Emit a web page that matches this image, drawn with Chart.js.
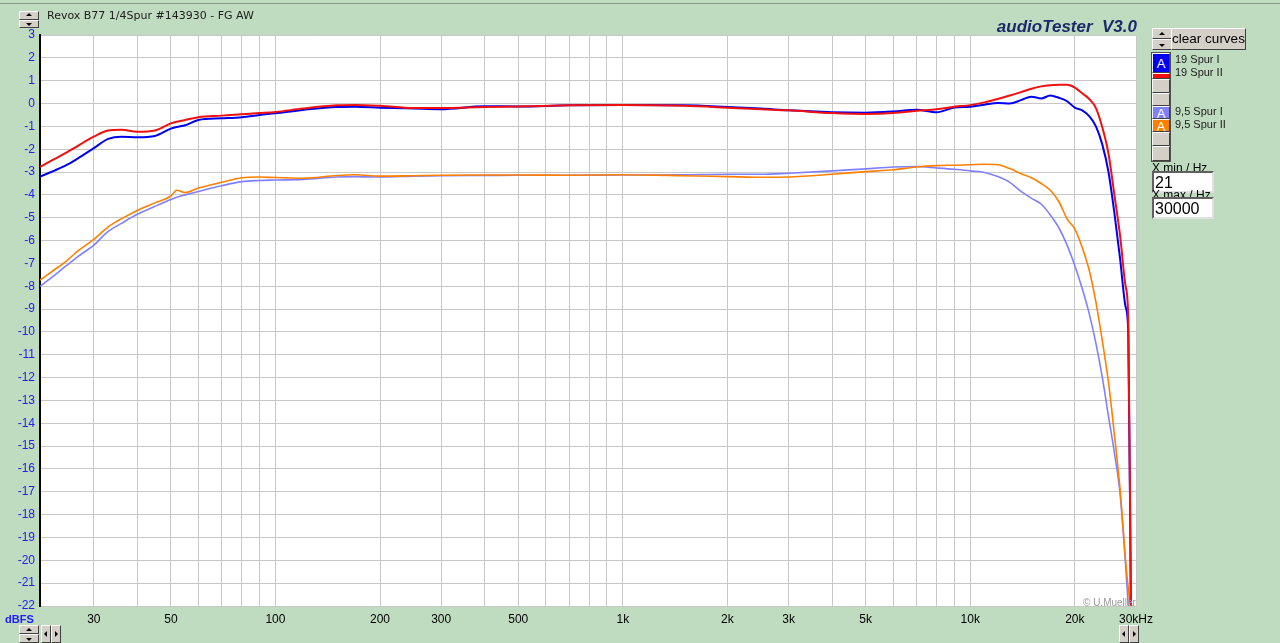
<!DOCTYPE html>
<html>
<head>
<meta charset="utf-8">
<script src="https://cdn.jsdelivr.net/npm/chart.js@4.4.1/dist/chart.umd.min.js"></script>
<style>
  body { margin: 0; width: 1280px; height: 643px; overflow: hidden; position: relative;
         background: #c0dcc0; font-family: "Liberation Sans", Arial, sans-serif; }
  #chart { position: absolute; left: 0; top: 0; }
  .abs { position: absolute; white-space: pre; }
  .btn { position: absolute; background: #d4d0c8; box-sizing: border-box; white-space: nowrap; overflow: hidden;
         border: 1px solid; border-color: #ffffff #404040 #404040 #ffffff; }
  .spin { position: absolute; width: 20px; }
  .spin div { position: relative; height: 50%; background: #d4d0c8; box-sizing: border-box;
              border: 1px solid; border-color: #ffffff #404040 #404040 #ffffff; }
  .up::after, .dn::after, .lf::after, .rt::after { content: ""; position: absolute; left: 50%; top: 50%;
              width: 0; height: 0; border: 3px solid transparent; }
  .up::after { border-bottom-color: #000; margin: -5px 0 0 -3px; }
  .dn::after { border-top-color: #000; margin: -1px 0 0 -3px; }
  .lf::after { border-right-color: #000; margin: -3px 0 0 -5px; }
  .rt::after { border-left-color: #000; margin: -3px 0 0 -1px; }
  .leg { position: absolute; left: 1152px; width: 18px; box-sizing: border-box; background: #d4d0c8;
         border: 1px solid; border-color: #ffffff #404040 #404040 #ffffff; color: #fff;
         font: 13px "Liberation Sans", Arial, sans-serif; text-align: center; overflow: hidden; }
  .legtxt { position: absolute; left: 1175px; font: 11px "Liberation Sans", Arial, sans-serif; color: #202020; white-space: nowrap; }
  .inp { position: absolute; left: 1152px; width: 62px; height: 22px; background: #fff; box-sizing: border-box;
         border: 2px solid; border-color: #606060 #e0e0e0 #e0e0e0 #606060;
         font: 16px "Liberation Sans", Arial, sans-serif; padding: 1px 0 0 1px; color: #000; }
  .lbl { position: absolute; left: 1152px; font: 12px "Liberation Sans", Arial, sans-serif; color: #000; white-space: nowrap; }
</style>
</head>
<body>
<canvas id="chart" width="1280" height="643"></canvas>

<div class="abs" style="left:0;top:3px;width:1280px;height:1px;background:#8a9a8a"></div>
<div class="spin" style="left:19px;top:11px;height:17px"><div class="up"></div><div class="dn"></div></div>
<div class="abs" style="left:47px;top:9px;font:11px 'DejaVu Sans', sans-serif;color:#202020">Revox B77 1/4Spur #143930 - FG AW</div>
<div class="abs" style="right:143px;top:17px;font:italic bold 17px 'Liberation Sans', Arial, sans-serif;color:#1b2a6b">audioTester  V3.0</div>

<div class="spin" style="left:1152px;top:28px;height:22px"><div class="up"></div><div class="dn"></div></div>
<div class="btn" style="left:1171px;top:28px;width:75px;height:22px;font:13.5px 'Liberation Sans', Arial, sans-serif;text-align:center;line-height:19px;color:#000">clear curves</div>

<div class="abs" style="left:1151px;top:52px;width:20px;height:110px;background:#505050"></div>
<div class="leg" style="top:53px;height:20px;background:#0000f0;line-height:19px">A</div>
<div class="leg" style="top:73px;height:6px;background:#f01010;line-height:19px">A</div>
<div class="leg" style="top:79px;height:14px"></div>
<div class="leg" style="top:93px;height:13px"></div>
<div class="leg" style="top:106px;height:13px;background:#8080ff;line-height:13px">A</div>
<div class="leg" style="top:119px;height:13px;background:#ff8000;line-height:13px">A</div>
<div class="leg" style="top:132px;height:14px"></div>
<div class="leg" style="top:146px;height:15px"></div>
<div class="legtxt" style="top:53px">19 Spur I</div>
<div class="legtxt" style="top:66px">19 Spur II</div>
<div class="legtxt" style="top:105px">9,5 Spur I</div>
<div class="legtxt" style="top:118px">9,5 Spur II</div>

<div class="lbl" style="top:161px">X min / Hz</div>
<div class="inp" style="top:171px">21</div>
<div class="lbl" style="top:188px">X max / Hz</div>
<div class="inp" style="top:197px">30000</div>

<div class="abs" style="left:1083px;top:597px;font:10px 'Liberation Sans', Arial, sans-serif;color:#9a9a9a">© U.Mueller</div>
<div class="abs" style="left:5px;top:613px;font:bold 11px 'Liberation Sans', Arial, sans-serif;color:#2020ff">dBFS</div>

<div class="spin" style="left:19px;top:625px;height:18px"><div class="up"></div><div class="dn"></div></div>
<div class="btn lf" style="left:41px;top:625px;width:10px;height:18px"></div>
<div class="btn rt" style="left:51px;top:625px;width:10px;height:18px"></div>
<div class="btn lf" style="left:1119px;top:625px;width:10px;height:18px"></div>
<div class="btn rt" style="left:1129px;top:625px;width:10px;height:18px"></div>

<script>
// frequencies in Hz (shared by all curves)
const freqs = [21, 23, 25, 27, 30, 33, 36, 40, 45, 50, 52, 55, 60, 70, 80, 90, 100, 120, 150, 170,
  200, 250, 300, 400, 500, 700, 1000, 1500, 2000, 2500, 3000, 4000, 5000, 6000, 7000, 8000, 9000,
  10000, 11000, 12000, 13000, 14000, 15000, 16000, 17000, 18000, 19000, 20000, 21000, 22000,
  23000, 24000, 25000, 26000, 27000, 28000, 28500, 29000, 29500];

// level in dBFS
const spur19I = [-3.2, -2.95, -2.7, -2.4, -1.95, -1.55, -1.45, -1.48, -1.42, -1.1, -1.03, -0.95, -0.72, -0.65, -0.6, -0.5, -0.43, -0.28, -0.15, -0.14,
  -0.18, -0.22, -0.25, -0.12, -0.13, -0.08, -0.07, -0.08, -0.15, -0.22, -0.3, -0.38, -0.4, -0.35, -0.27, -0.38, -0.18,
  -0.14, -0.05, 0.02, 0.0, 0.15, 0.3, 0.22, 0.35, 0.25, 0.1, -0.18, -0.3, -0.55,
  -1.0, -1.8, -3.0, -4.8, -6.8, -8.9, -10.0, -22, null];

const spur19II = [-2.77, -2.45, -2.15, -1.85, -1.45, -1.18, -1.15, -1.24, -1.18, -0.87, -0.8, -0.72, -0.6, -0.53, -0.47, -0.42, -0.37, -0.22, -0.08, -0.06,
  -0.1, -0.2, -0.2, -0.15, -0.13, -0.08, -0.06, -0.1, -0.18, -0.25, -0.3, -0.42, -0.46, -0.42, -0.32, -0.25, -0.14,
  -0.07, 0.05, 0.2, 0.35, 0.5, 0.65, 0.75, 0.8, 0.82, 0.82, 0.7, 0.45, 0.2,
  -0.2, -1.05, -2.2, -4.0, -5.8, -8.0, -9.4, -22, null];

const spur95I = [-8.0, -7.55, -7.1, -6.7, -6.2, -5.6, -5.25, -4.85, -4.5, -4.2, -4.1, -4.0, -3.85, -3.6, -3.42, -3.37, -3.35, -3.32, -3.22, -3.2,
  -3.22, -3.18, -3.16, -3.15, -3.14, -3.14, -3.13, -3.12, -3.1, -3.1, -3.05, -2.95, -2.86, -2.78, -2.76, -2.82, -2.88,
  -2.95, -3.02, -3.2, -3.45, -3.85, -4.15, -4.4, -4.88, -5.45, -6.2, -7.1, -8.1, -9.2,
  -10.5, -12.0, -13.7, -15.3, -17.1, -20.2, -22, null, null];

const spur95II = [-7.73, -7.3, -6.9, -6.45, -5.95, -5.4, -5.05, -4.68, -4.35, -4.05, -3.8, -3.9, -3.7, -3.45, -3.25, -3.22, -3.24, -3.27, -3.15, -3.12,
  -3.18, -3.16, -3.14, -3.13, -3.13, -3.14, -3.12, -3.16, -3.2, -3.23, -3.22, -3.1, -2.98, -2.9, -2.78, -2.72, -2.7,
  -2.68, -2.66, -2.68, -2.85, -3.07, -3.25, -3.5, -3.8, -4.3, -5.05, -5.5, -6.3, -7.3,
  -8.7, -10.4, -12.2, -14.5, -16.9, -20.0, -21.2, -22, -22];

const xTickValues = [30, 50, 100, 200, 300, 500, 1000, 2000, 3000, 5000, 10000, 20000, 30000];
const xTickLabels = ['30', '50', '100', '200', '300', '500', '1k', '2k', '3k', '5k', '10k', '20k', '30kHz'];

// grid at every 1..9 step of each decade between the limits
const xGrid = [];
[10, 100, 1000, 10000].forEach(d => {
  for (let m = 1; m <= 9; m++) {
    const v = m * d;
    if (v > 21 && v <= 30000) xGrid.push(v);
  }
});

const toPoints = arr => freqs.map((f, i) => ({ x: f, y: arr[i] }));

const plotBg = {
  id: 'plotBg',
  beforeDraw(chart) {
    const { ctx, chartArea: a } = chart;
    ctx.save();
    ctx.fillStyle = '#ffffff';
    ctx.fillRect(a.left, a.top, a.right - a.left, a.bottom - a.top);
    ctx.restore();
  }
};

const ctx = document.getElementById('chart').getContext('2d');
new Chart(ctx, {
  type: 'line',
  data: {
    datasets: [
      { label: '19 Spur II', data: toPoints(spur19II), borderColor: '#f01010', borderWidth: 2 },
      { label: '19 Spur I', data: toPoints(spur19I), borderColor: '#0000f0', borderWidth: 2 },
      { label: '9,5 Spur II', data: toPoints(spur95II), borderColor: '#ff8000', borderWidth: 1.6 },
      { label: '9,5 Spur I', data: toPoints(spur95I), borderColor: '#8080ff', borderWidth: 1.6 }
    ]
  },
  options: {
    responsive: false,
    animation: false,
    devicePixelRatio: 1,
    layout: { padding: { left: 0, top: 35, right: 144, bottom: 0 } },
    elements: {
      point: { radius: 0 },
      line: { fill: false, cubicInterpolationMode: 'monotone' }
    },
    scales: {
      x: {
        type: 'logarithmic',
        min: 21,
        max: 30000,
        afterBuildTicks: s => { s.ticks = xGrid.map(v => ({ value: v })); },
        afterFit: s => { s.height = 37; },
        grid: { color: '#c8c8c8', lineWidth: 1, drawTicks: false },
        border: { color: '#c8c8c8' },
        ticks: {
          autoSkip: false, maxRotation: 0, minRotation: 0, padding: 6,
          color: '#000', font: { family: 'Liberation Sans', size: 12 },
          callback: v => {
            const i = xTickValues.indexOf(v);
            return i >= 0 ? xTickLabels[i] : '';
          }
        }
      },
      y: {
        min: -22,
        max: 3,
        afterFit: s => { s.width = 40; },
        grid: { color: '#c8c8c8', lineWidth: 1, drawTicks: false },
        border: { color: '#000', width: 2 },
        ticks: {
          stepSize: 1, autoSkip: false, padding: 5,
          color: '#2020ff', font: { family: 'Liberation Sans', size: 12 }
        }
      }
    },
    plugins: {
      legend: { display: false },
      tooltip: { enabled: false }
    }
  },
  plugins: [plotBg]
});
</script>
</body>
</html>
